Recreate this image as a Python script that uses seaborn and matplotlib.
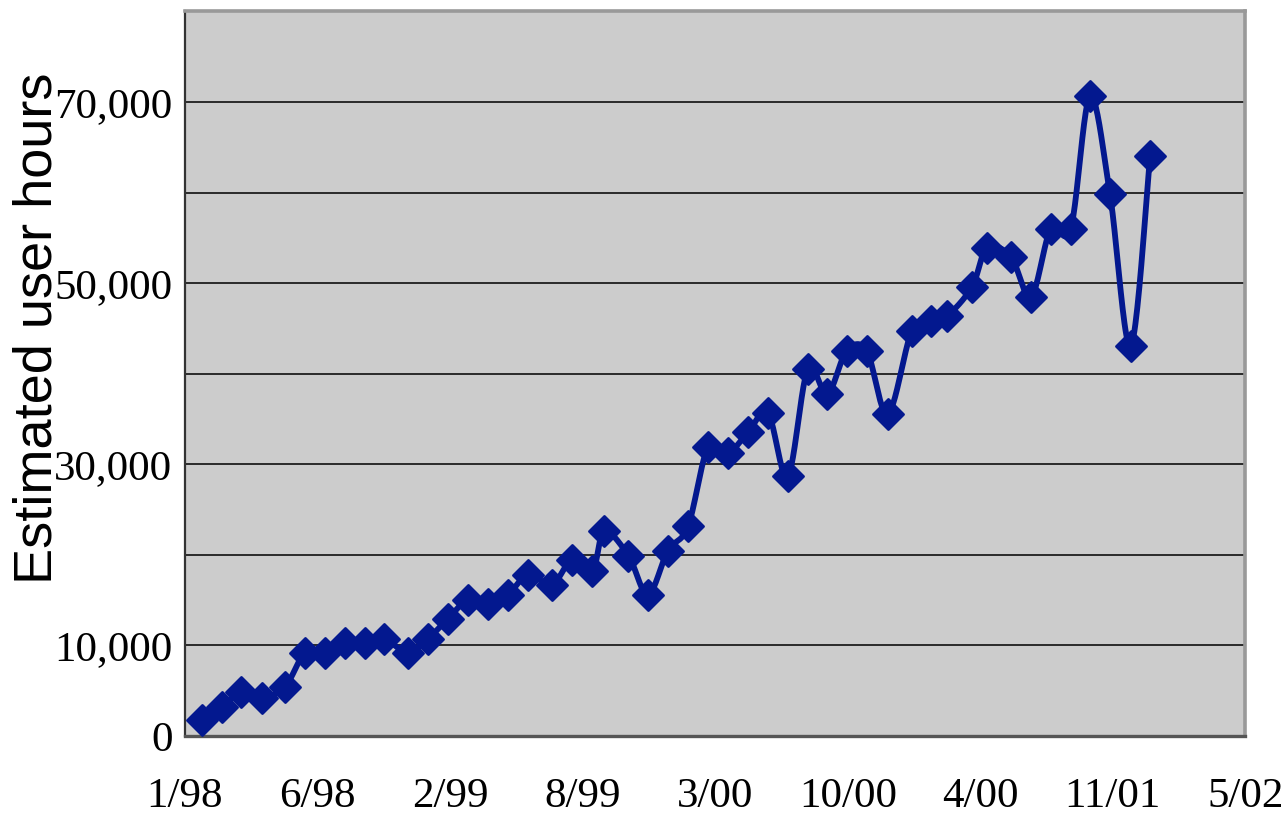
import numpy as np
import pandas as pd
import matplotlib
matplotlib.use("Agg")
import matplotlib.pyplot as plt
import seaborn as sns

# Reporting periods (roughly one per unit) and estimated user hours
period = [0.0, 1.0, 1.96, 2.98, 4.13, 5.12, 6.11, 7.10, 8.09, 9.03,
          10.22, 11.21, 12.20, 13.19, 14.18, 15.17, 16.16, 17.35, 18.34, 19.35,
          19.94, 21.13, 22.10, 23.09, 24.08, 25.07, 26.06, 27.05, 28.04, 29.02,
          30.01, 30.98, 31.94, 32.93, 33.97, 35.16, 36.11, 36.91, 38.14, 38.89,
          40.07, 41.06, 42.04, 43.03, 43.98, 44.97, 46.00, 46.96]
hours = [1770, 3210, 4870, 4200, 5420, 9190, 9190, 10290, 10290, 10740,
         9190, 10740, 12950, 15050, 14610, 15600, 17820, 16710, 19480, 18260,
         22580, 19920, 15600, 20470, 23130, 31870, 31210, 33530, 35640, 28660,
         40500, 37740, 42530, 42530, 35530, 44710, 45820, 46370, 49580, 53900,
         52900, 48470, 56000, 56000, 70610, 59870, 43050, 64080]

x_tick_labels = ["1/98", "6/98", "2/99", "8/99", "3/00", "10/00", "4/00", "11/01", "5/02"]
y_ticks = [0, 10000, 20000, 30000, 40000, 50000, 60000, 70000, 80000]
y_tick_labels = ["0", "10,000", "", "30,000", "", "50,000", "", "70,000", ""]

BLUE = "#03188f"


def catmull_rom(xs, ys, sx, sy, n=24):
    """Smooth a polyline with a Catmull-Rom spline evaluated in screen-like units."""
    pts = np.column_stack([np.asarray(xs, float) * sx, np.asarray(ys, float) * sy])
    pts = np.vstack([pts[0], pts, pts[-1]])
    out = []
    t = np.linspace(0, 1, n)[:, None]
    for i in range(1, len(pts) - 2):
        p0, p1, p2, p3 = pts[i - 1], pts[i], pts[i + 1], pts[i + 2]
        seg = 0.5 * (2 * p1 + (-p0 + p2) * t + (2 * p0 - 5 * p1 + 4 * p2 - p3) * t ** 2
                     + (-p0 + 3 * p1 - 3 * p2 + p3) * t ** 3)
        out.append(seg if i == 1 else seg[1:])
    out = np.vstack(out)
    return out[:, 0] / sx, out[:, 1] / sy


sns.set_style("white", {"axes.facecolor": "#cccccc"})
plt.rcParams["font.family"] = ["Liberation Serif", "DejaVu Serif"]
plt.rcParams["text.color"] = "black"
plt.rcParams["xtick.labelcolor"] = "black"
plt.rcParams["ytick.labelcolor"] = "black"
plt.rcParams["axes.labelcolor"] = "black"

fig = plt.figure(figsize=(12.82, 8.30), dpi=100)
ax = fig.add_axes([0.1443, 0.1133, 0.8272, 0.8729])

cx, cy = catmull_rom(period, hours, 20.2, 90.36 / 10000)
curve = pd.DataFrame({"period": cx, "hours": cy})
points = pd.DataFrame({"period": period, "hours": hours})

sns.lineplot(data=curve, x="period", y="hours", sort=False, estimator=None,
             color=BLUE, linewidth=4.2, ax=ax, zorder=3)
sns.scatterplot(data=points, x="period", y="hours", marker="D", s=15.5 ** 2,
                color=BLUE, edgecolor=BLUE, linewidth=1.8, ax=ax, zorder=4)

xmin, xmax = -0.82, 51.68
ax.set_xlim(xmin, xmax)
ax.set_ylim(0, 80000)
ax.set_xticks(np.linspace(xmin, xmax, len(x_tick_labels)))
ax.set_xticklabels(x_tick_labels)
ax.set_yticks(y_ticks)
ax.set_yticklabels(y_tick_labels)

ax.set_axisbelow(True)
ax.yaxis.grid(True, color="#1e1e1e", linewidth=1.3)
ax.xaxis.grid(False)

ax.tick_params(axis="x", direction="out", length=8, width=1.3, color="#222222",
               pad=22, labelsize=31)
ax.tick_params(axis="y", direction="out", length=5, width=1.3, color="#222222",
               pad=4, labelsize=31)

for side in ("top", "right"):
    ax.spines[side].set_color("#999999")
    ax.spines[side].set_linewidth(2.6)
ax.spines["left"].set_color("#333333")
ax.spines["left"].set_linewidth(1.6)
ax.spines["bottom"].set_color("#555555")
ax.spines["bottom"].set_linewidth(2.4)

ax.set_xlabel("")
ax.set_ylabel("Estimated user hours", family=["Liberation Sans", "DejaVu Sans"],
              fontsize=39, color="black")
ax.yaxis.set_label_coords(-0.1390, 0.563)
ax.yaxis.label.set_verticalalignment("center")

fig.savefig("out.png", dpi=100, facecolor="white")
